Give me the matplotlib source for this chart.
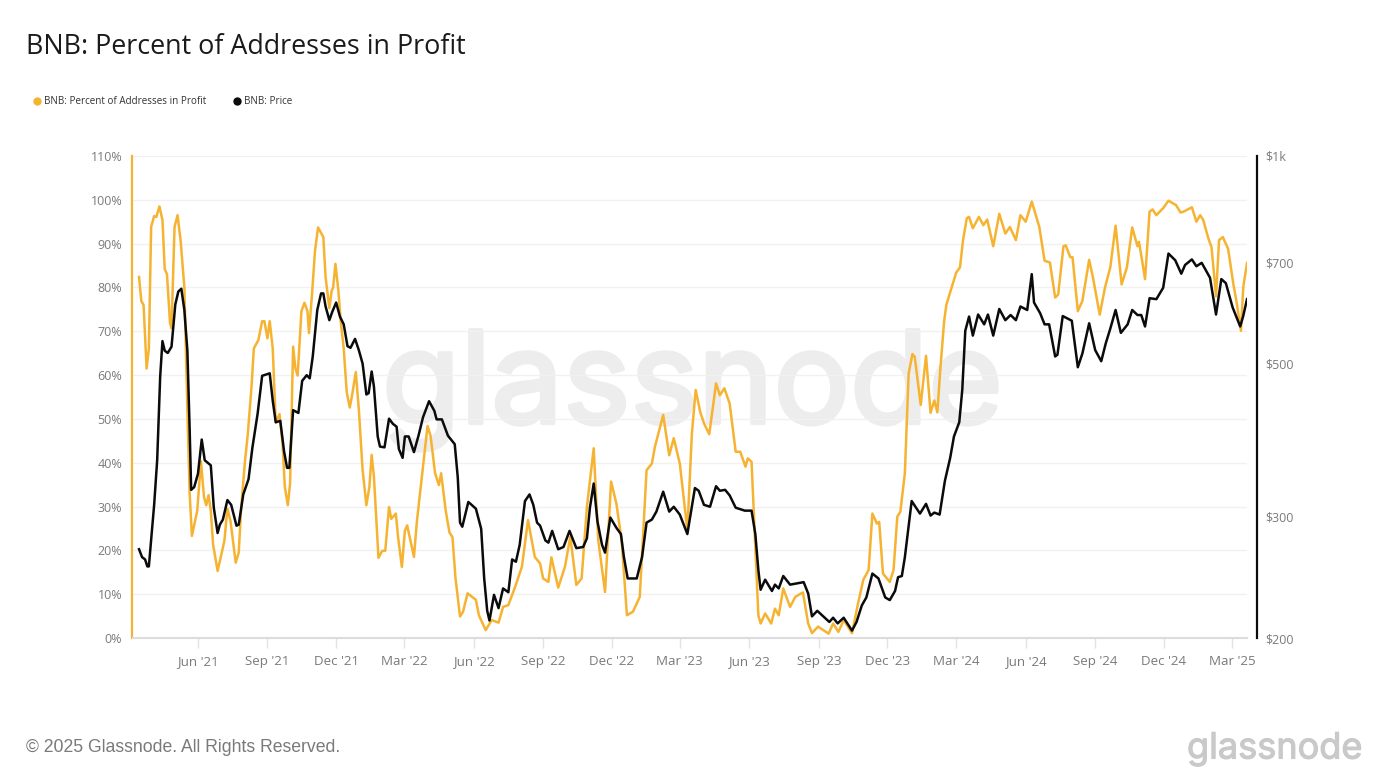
import matplotlib
matplotlib.use("Agg")
import matplotlib.pyplot as plt
import matplotlib.dates as mdates
import matplotlib.patheffects as effects
import numpy as np
from matplotlib.lines import Line2D

# (days since first sample, percent of addresses in profit)
PROFIT = [(0, 82.4), (3, 76.9), (6, 76), (10, 61.5), (13, 66), (16, 93.8), (20, 96.3), (23, 96.1), (27, 98.5), (31, 95.4),
          (34, 84.2), (37, 83), (41, 71.9), (43, 70.7), (47, 93.8), (51, 96.5), (55, 90.8), (60, 80), (64, 52), (67, 33),
          (70, 23.3), (73, 25.7), (77, 29), (82, 40.3), (86, 32.2), (89, 30.3), (92, 32.6), (95, 29.1), (98, 21.4), (104, 15.3),
          (108, 18.3), (113, 22.2), (117, 29.5), (121, 26.8), (128, 17.2), (132, 19.5), (135, 29.1), (140, 39.9), (144, 46.5),
          (149, 57.6), (152, 66.1), (158, 68), (163, 72.3), (166, 72.3), (170, 68.4), (173, 72.3), (177, 66.1), (181, 49.2),
          (186, 51.1), (190, 44.5), (193, 34.5), (197, 30.3), (200, 35.3), (204, 66.5), (207, 61.5), (210, 59.9), (215, 74.6),
          (219, 76.5), (223, 74.6), (225, 69.6), (229, 78.4), (233, 88.4), (237, 93.7), (244, 91.5), (247, 82.3), (252, 75.3),
          (255, 79.2), (257, 80), (260, 85.4), (264, 79.2), (267, 72.3), (271, 66.1), (275, 56.1), (279, 52.6), (282, 55.3),
          (287, 60.7), (291, 52.2), (296, 38.4), (301, 30.3), (305, 34.5), (308, 41.8), (311, 36.8), (317, 18.3), (322, 19.9),
          (326, 19.9), (331, 29.9), (334, 27.2), (340, 28.4), (343, 23), (348, 16.2), (352, 24.5), (355, 25.7), (364, 18.5),
          (368, 26.8), (374, 36), (382, 48.4), (386, 46.1), (392, 37.6), (397, 34.9), (400, 37.6), (406, 29.1), (411, 24.1),
          (415, 23), (419, 13.7), (425, 4.9), (429, 6), (435, 10.2), (446, 8.7), (450, 5.2), (459, 1.8), (467, 4.1), (476, 3.5),
          (482, 7.1), (489, 7.5), (498, 11.7), (507, 16.3), (515, 26.9), (524, 18.5), (531, 17), (535, 13.6), (542, 12.8),
          (546, 18.4), (555, 11.5), (564, 16.3), (571, 23.1), (579, 12.1), (586, 13.6), (593, 29.9), (602, 43.3), (608, 22.3),
          (617, 10.5), (625, 35.7), (632, 30.7), (639, 22.3), (646, 5.2), (654, 6), (663, 9.4), (672, 38.3), (679, 39.8),
          (683, 43.6), (694, 50.9), (702, 41.7), (708, 45.6), (716, 39.8), (726, 24.6), (732, 46.7), (737, 56.6), (743, 51.6),
          (748, 49), (755, 46.5), (764, 58.1), (769, 55.4), (775, 57), (782, 53.5), (790, 42.5), (796, 42.5), (803, 39.1),
          (806, 41), (811, 40.2), (816, 20.8), (820, 5.2), (823, 3.3), (829, 5.6), (837, 3.3), (842, 6.7), (847, 5.2), (853, 11.3),
          (862, 7.1), (869, 9.4), (879, 10.4), (886, 3.3), (891, 1.1), (899, 2.6), (906, 1.8), (913, 1), (919, 3.3), (926, 1.4),
          (933, 4.1), (944, 1.1), (952, 7.9), (959, 13.3), (966, 15.5), (971, 28.4), (977, 26.1), (980, 26.5), (985, 14.7),
          (994, 12.8), (999, 15.5), (1004, 27.7), (1008, 28.8), (1014, 37.6), (1019, 60.4), (1024, 64.8), (1027, 64.2), (1035, 53.2),
          (1042, 64.4), (1048, 51.4), (1053, 54.2), (1057, 51.5), (1061, 61.5), (1066, 72.3), (1069, 76.1), (1076, 80), (1082, 83.4),
          (1087, 84.6), (1091, 90.8), (1096, 95.8), (1099, 96.1), (1104, 93.5), (1112, 96.1), (1118, 94.2), (1123, 95.5), (1131, 89.4),
          (1139, 96.8), (1147, 92.3), (1153, 93.8), (1161, 90.8), (1167, 96.5), (1174, 95), (1182, 99.6), (1192, 93.8), (1199, 86.1),
          (1206, 85.7), (1213, 77.7), (1217, 78.4), (1224, 89.4), (1227, 89.6), (1233, 86.9), (1236, 86.9), (1243, 74.6), (1249, 76.9),
          (1258, 86.3), (1263, 82.3), (1272, 73.8), (1279, 80), (1286, 84.6), (1293, 94.1), (1301, 80.7), (1308, 84.6), (1315, 93.7),
          (1322, 89.4), (1324, 90.4), (1327, 87.3), (1332, 81.9), (1338, 97.3), (1342, 97.8), (1347, 96.5), (1356, 98.1), (1363, 99.8),
          (1373, 98.8), (1379, 97.1), (1383, 97.3), (1394, 98.3), (1400, 95), (1405, 96.5), (1409, 95.4), (1416, 91.1), (1420, 89.2),
          (1426, 78), (1430, 90.8), (1435, 91.5), (1442, 88.8), (1449, 80.7), (1453, 76.9), (1459, 70.1), (1462, 80), (1467, 85.6)]

# (days since first sample, price in dollars)
PRICE = [(0, 269), (4, 262), (8, 260), (11, 254), (13, 254), (17, 285), (20, 312), (24, 362), (28, 479), (31, 539), (34, 522),
         (38, 518), (43, 529), (48, 609), (52, 636), (56, 642), (60, 598), (64, 522), (67, 402), (69, 328), (73, 331), (78, 346),
         (83, 388), (87, 362), (95, 356), (99, 309), (104, 284), (107, 292), (111, 297), (117, 317), (122, 312), (129, 291),
         (132, 292), (138, 323), (145, 340), (150, 377), (157, 423), (163, 480), (173, 484), (177, 442), (181, 411), (187, 413),
         (192, 373), (196, 353), (199, 353), (204, 428), (211, 424), (216, 472), (222, 481), (226, 476), (230, 512), (236, 598),
         (241, 632), (244, 632), (247, 605), (252, 578), (256, 595), (261, 613), (266, 585), (271, 570), (276, 530), (280, 527),
         (286, 543), (291, 523), (296, 500), (301, 451), (304, 453), (308, 487), (311, 463), (316, 392), (319, 379), (325, 378),
         (331, 416), (336, 409), (341, 405), (344, 376), (349, 365), (352, 392), (357, 392), (364, 372), (370, 393), (376, 418),
         (384, 441), (391, 427), (394, 415), (401, 415), (409, 393), (418, 382), (422, 342), (425, 294), (428, 290), (436, 315),
         (446, 308), (453, 288), (457, 244), (461, 219), (464, 212), (470, 231), (476, 221), (482, 236), (489, 233), (494, 260),
         (499, 258), (504, 273), (511, 316), (517, 323), (522, 312), (527, 294), (531, 291), (538, 277), (542, 275), (547, 286),
         (555, 269), (562, 271), (570, 286), (579, 270), (588, 271), (593, 279), (597, 309), (602, 335), (607, 295), (613, 273),
         (617, 266), (624, 299), (632, 289), (638, 283), (642, 262), (647, 244), (659, 244), (666, 262), (672, 294), (679, 297),
         (685, 305), (694, 326), (702, 305), (708, 310), (716, 302), (726, 283), (736, 330), (741, 327), (748, 312), (756, 310),
         (764, 332), (769, 327), (776, 328), (782, 322), (790, 309), (802, 306), (811, 306), (816, 283), (820, 251), (823, 235),
         (829, 243), (838, 234), (842, 239), (847, 236), (853, 246), (862, 239), (880, 241), (886, 232), (891, 215), (898, 219),
         (906, 215), (914, 211), (919, 214), (925, 210), (933, 214), (944, 205), (950, 211), (957, 223), (963, 229), (971, 248),
         (979, 244), (988, 229), (994, 227), (1001, 234), (1005, 245), (1010, 246), (1014, 262), (1023, 316), (1034, 303),
         (1042, 313), (1048, 301), (1053, 304), (1060, 302), (1067, 338), (1074, 365), (1079, 392), (1086, 411), (1090, 458),
         (1094, 558), (1099, 585), (1104, 549), (1111, 589), (1119, 570), (1124, 589), (1131, 549), (1139, 600), (1147, 578),
         (1154, 588), (1161, 578), (1167, 605), (1176, 598), (1182, 674), (1185, 613), (1193, 592), (1199, 570), (1205, 570),
         (1213, 512), (1216, 515), (1223, 586), (1235, 577), (1243, 494), (1249, 517), (1258, 572), (1266, 523), (1274, 504),
         (1280, 535), (1286, 562), (1293, 598), (1300, 554), (1309, 570), (1315, 598), (1322, 588), (1327, 588), (1332, 566),
         (1338, 622), (1347, 620), (1356, 644), (1363, 722), (1372, 706), (1380, 675), (1385, 695), (1394, 708), (1400, 692),
         (1407, 700), (1418, 666), (1426, 589), (1433, 663), (1439, 654), (1448, 603), (1458, 566), (1462, 586), (1467, 620)]

START = np.datetime64("2021-03-15")
YELLOW = "#F6B331"
BLACK = "#0B0B0B"
GREY = "#7A7A7A"
WIDTH, HEIGHT = 1394, 782


class ChartMaker:
    def __init__(self, filename):
        self.filename = filename

    def toDates(self, series):
        days = np.array([point[0] for point in series])
        return START + days.astype("timedelta64[D]"), np.array([point[1] for point in series])

    def plotProfit(self):
        dates, values = self.toDates(PROFIT)
        plt.plot(dates, values, color=YELLOW, linewidth=1.8)
        plt.xlim(START - np.timedelta64(8, "D"), START + np.timedelta64(1467, "D"))
        plt.ylim(0, 110)
        plt.yticks(range(0, 111, 10), [f"{tick}%" for tick in range(0, 111, 10)])
        plt.grid(axis="y", color="#F1F1F1", linewidth=1)
        plt.gca().set_axisbelow(True)
        plt.gca().xaxis.set_major_locator(mdates.MonthLocator(bymonth=(3, 6, 9, 12)))
        plt.gca().xaxis.set_major_formatter(mdates.DateFormatter("%b '%y"))
        plt.tick_params(axis="x", length=7, width=1, color="#E2E2E2", labelcolor=GREY, labelsize=9.6, pad=5.5)
        plt.tick_params(axis="y", length=0, labelcolor=GREY, labelsize=9, pad=7)
        for side in ["top", "right"]:
            plt.gca().spines[side].set_visible(False)
        plt.gca().spines["bottom"].set_color("#DCDCDC")
        plt.gca().spines["bottom"].set_linewidth(1.5)
        plt.gca().spines["left"].set_color(YELLOW)
        plt.gca().spines["left"].set_linewidth(1.6)
        plt.gca().spines["left"].set_position(("outward", 0.7))

    def plotPrice(self):
        dates, values = self.toDates(PRICE)
        plt.twinx()
        plt.plot(dates, values, color=BLACK, linewidth=1.8)
        plt.yscale("log")
        plt.ylim(200, 1000)
        plt.yticks([200, 300, 500, 700, 1000], ["$200", "$300", "$500", "$700", "$1k"])
        plt.minorticks_off()
        plt.tick_params(axis="y", length=0, labelcolor=GREY, labelsize=9, pad=6)
        for side in ["top", "left", "bottom"]:
            plt.gca().spines[side].set_visible(False)
        plt.gca().spines["right"].set_color(BLACK)
        plt.gca().spines["right"].set_linewidth(1.6)
        plt.gca().spines["right"].set_position(("outward", 7.2))

    def addTexts(self):
        fig = plt.gcf()
        fig.text(26 / WIDTH, 1 - 47 / HEIGHT, "BNB: Percent of Addresses in Profit", fontsize=19.4, color="#1A1A1A", va="center")
        fig.text(26 / WIDTH, 1 - 747 / HEIGHT, "© 2025 Glassnode. All Rights Reserved.", fontsize=12.7, color=GREY, va="center", family="Liberation Sans")
        logo = fig.text(1187 / WIDTH, 1 - 749 / HEIGHT, "glassnode", fontsize=26, color="#C9C9C9", va="center", family="Inter")
        logo.set_path_effects([effects.withStroke(linewidth=0.8, foreground="#C9C9C9")])
        mark = fig.text(382 / WIDTH, 1 - 390 / HEIGHT, "glassnode", fontsize=92, color="#EDEDED", va="center", family="Inter", zorder=-1)
        mark.set_path_effects([effects.withStroke(linewidth=3, foreground="#EDEDED")])
        handles = [
            Line2D([], [], color=YELLOW, marker="o", markersize=5, linestyle="None", label="BNB: Percent of Addresses in Profit"),
            Line2D([], [], color=BLACK, marker="o", markersize=5, linestyle="None", label="BNB: Price")
        ]
        plt.figlegend(handles=handles, loc="center left", bbox_to_anchor=(18 / WIDTH, 1 - 102 / HEIGHT), ncol=2, frameon=False,
                      prop={"size": 7.1}, handletextpad=-0.3, columnspacing=2.2, labelcolor="#333333")

    def saveResult(self):
        plt.savefig(self.filename, dpi=100)
        plt.close()


def main():
    plt.rcParams["font.family"] = "Open Sans"
    plt.figure(figsize=(WIDTH / 100, HEIGHT / 100))
    plt.axes([133 / WIDTH, 1 - 638 / HEIGHT, (1247 - 133) / WIDTH, (638 - 156) / HEIGHT], facecolor="none")
    chart = ChartMaker("out.png")
    chart.plotProfit()
    chart.plotPrice()
    chart.addTexts()
    chart.saveResult()


if __name__ == "__main__":
    main()
